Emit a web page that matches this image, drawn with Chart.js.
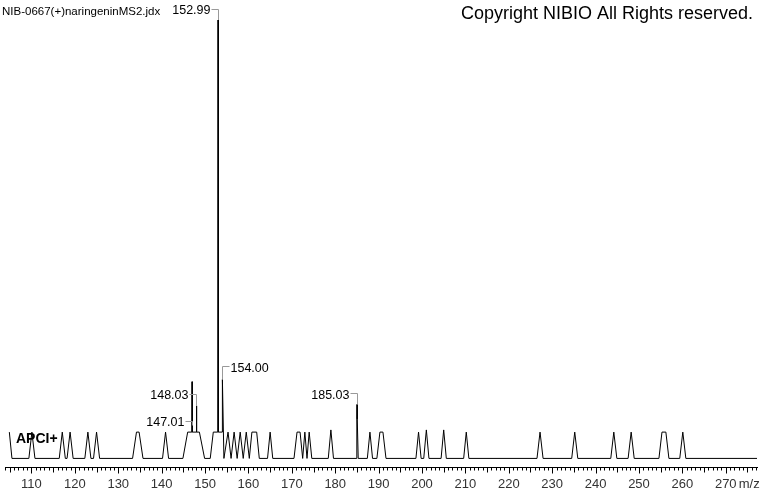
<!DOCTYPE html>
<html>
<head>
<meta charset="utf-8">
<script src="https://cdn.jsdelivr.net/npm/chart.js@4.4.1/dist/chart.umd.min.js"></script>
<style>
  html, body { margin: 0; padding: 0; background: #fff; }
  #wrap { width: 760px; height: 492px; }
</style>
</head>
<body>
<div id="wrap"><canvas id="spec" width="760" height="492"></canvas></div>
<script>
// Spectrum profile: m/z and relative intensity (%)
const profileMz = [
    104.9, 105.5,
    109.4, 110.1, 110.8,
    116.4, 117.1, 117.8,
    118.2, 118.9, 119.6,
    122.3, 123.0, 123.7,
    124.3, 125.0, 125.7,
    133.3, 134.2, 134.8, 135.7,
    140.2, 140.9, 141.6,
    144.9, 146.0, 146.95, 147.01, 147.07, 147.97, 148.03, 148.09, 148.7, 149.9,
    151.2, 151.9, 152.93, 152.99, 153.05, 153.11, 153.94, 154.00, 154.35,
    155.3, 156.0, 156.7, 157.4, 158.1, 158.8, 159.5, 160.2,
    160.8, 161.9, 162.5,
    164.4, 165.0, 165.6,
    170.5, 171.2, 171.9, 172.5, 173.0, 173.5, 174.0, 174.6,
    178.4, 179.0, 179.6,
    184.8, 184.98, 185.03, 185.08, 185.3,
    187.4, 188.0, 188.6,
    189.6, 190.3, 191.0, 191.7,
    198.6, 199.2, 199.8,
    200.4, 201.0, 201.6,
    204.4, 205.0, 205.6,
    209.6, 210.2, 210.8,
    226.5, 227.2, 227.9,
    234.5, 235.2, 235.9,
    243.5, 244.2, 244.9,
    247.5, 248.2, 248.9,
    254.6, 255.3, 256.2, 256.9,
    259.4, 260.1, 260.8,
    277.2
];
const profileInt = [
    6, 0,
    0, 6, 0,
    0, 6, 0,
    0, 6, 0,
    0, 6, 0,
    0, 6, 0,
    0, 6, 6, 0,
    0, 6, 0,
    0, 6, 6, 17.5, 6, 6, 12, 6, 6, 0,
    0, 6, 6, 100, 76, 6, 6, 18, 0,
    6, 0, 6, 0, 6, 0, 6, 0,
    6, 6, 0,
    0, 6, 0,
    0, 6, 6, 0, 6, 0, 6, 0,
    0, 6.5, 0,
    0, 9, 12.3, 9, 0,
    0, 6, 0,
    0, 6, 6, 0,
    0, 6, 0,
    0, 6.5, 0,
    0, 6.5, 0,
    0, 6, 0,
    0, 6, 0,
    0, 6, 0,
    0, 6, 0,
    0, 6, 0,
    0, 6, 6, 0,
    0, 6, 0,
    0
];

// Annotated peaks
const peakText = ['152.99', '154.00', '148.03', '147.01', '185.03'];
const peakMz = [152.99, 154.00, 148.03, 147.01, 185.03];
const peakInt = [100, 18, 12, 17.5, 12.3];

// x-axis labels
const tickValues = [110, 120, 130, 140, 150, 160, 170, 180, 190, 200, 210, 220, 230, 240, 250, 260, 270];

const FONT = "'Liberation Sans', Arial, sans-serif";

// label placement: side of the peak and vertical offset of the text from the peak top
const labelSide = ['left', 'right', 'left', 'left', 'left'];
const labelDy = [-9, -11, -10, 41, -9];

const decorPlugin = {
    id: 'decor',
    afterDraw(chart) {
        const ctx = chart.ctx;
        const xs = chart.scales.x;
        const ys = chart.scales.y;
        const area = chart.chartArea;
        const axisY = Math.round(area.bottom) + 0.5;

        ctx.save();

        // tick marks under the axis line
        ctx.strokeStyle = '#000';
        ctx.lineWidth = 1;
        ctx.beginPath();
        for (let v = Math.ceil(xs.min); v <= xs.max; v++) {
            const px = Math.round(xs.getPixelForValue(v)) + 0.5;
            const len = v % 10 === 0 ? 6 : (v % 5 === 0 ? 5 : 3);
            ctx.moveTo(px, axisY);
            ctx.lineTo(px, axisY + len);
        }
        ctx.stroke();

        // unit after the last label
        ctx.fillStyle = '#333';
        ctx.font = '13px ' + FONT;
        ctx.textBaseline = 'middle';
        ctx.textAlign = 'left';
        ctx.fillText('m/z', xs.getPixelForValue(270) + 13, area.bottom + 17);

        // peak labels with grey brackets
        ctx.font = '12.5px ' + FONT;
        peakText.forEach((t, i) => {
            const px = Math.round(xs.getPixelForValue(peakMz[i])) + 0.5;
            const py = ys.getPixelForValue(peakInt[i]);
            const ty = py + labelDy[i];
            const hy = Math.round(ty - 2) + 0.5;
            ctx.strokeStyle = '#999';
            ctx.beginPath();
            if (labelSide[i] === 'left') {
                const tx = px - 7;
                ctx.fillStyle = '#000';
                ctx.textAlign = 'right';
                ctx.fillText(t, tx - 1, ty);
                ctx.moveTo(tx, hy);
                ctx.lineTo(px, hy);
                ctx.lineTo(px, Math.max(hy + 4, py));
            } else {
                const tx = px + 7;
                ctx.fillStyle = '#000';
                ctx.textAlign = 'left';
                ctx.fillText(t, tx + 1, ty);
                ctx.moveTo(tx, hy);
                ctx.lineTo(px, hy);
                ctx.lineTo(px, py);
            }
            ctx.stroke();
        });

        // header texts
        ctx.fillStyle = '#000';
        ctx.textAlign = 'left';
        ctx.font = '11.5px ' + FONT;
        ctx.fillText('NIB-0667(+)naringeninMS2.jdx', 2, 12);
        ctx.textAlign = 'right';
        ctx.font = '18px ' + FONT;
        ctx.fillText('Copyright NIBIO All Rights reserved.', 753, 14);

        // ionisation mode
        ctx.textAlign = 'left';
        ctx.font = 'bold 14px ' + FONT;
        ctx.fillText('APCI+', 16, 439);

        ctx.restore();
    }
};

new Chart(document.getElementById('spec'), {
    type: 'line',
    data: {
        datasets: [{
            data: profileMz.map((m, i) => ({ x: m, y: profileInt[i] })),
            borderColor: '#000',
            borderWidth: 1,
            pointRadius: 0,
            tension: 0,
            fill: false
        }]
    },
    options: {
        responsive: false,
        animation: false,
        layout: { padding: { left: 5, right: 3, top: 20, bottom: -9 } },
        plugins: {
            legend: { display: false },
            tooltip: { enabled: false }
        },
        scales: {
            x: {
                type: 'linear',
                min: 103.9,
                max: 277.2,
                afterBuildTicks: scale => {
                    scale.ticks = tickValues.map(v => ({ value: v }));
                },
                border: { display: true, color: '#000', width: 1 },
                grid: { display: false, drawTicks: false },
                ticks: {
                    autoSkip: false,
                    maxRotation: 0,
                    padding: 9,
                    color: '#333',
                    font: { family: FONT, size: 13 },
                    callback: v => String(v)
                }
            },
            y: { display: false, min: -2.05, max: 100 }
        }
    },
    plugins: [decorPlugin]
});
</script>
</body>
</html>
